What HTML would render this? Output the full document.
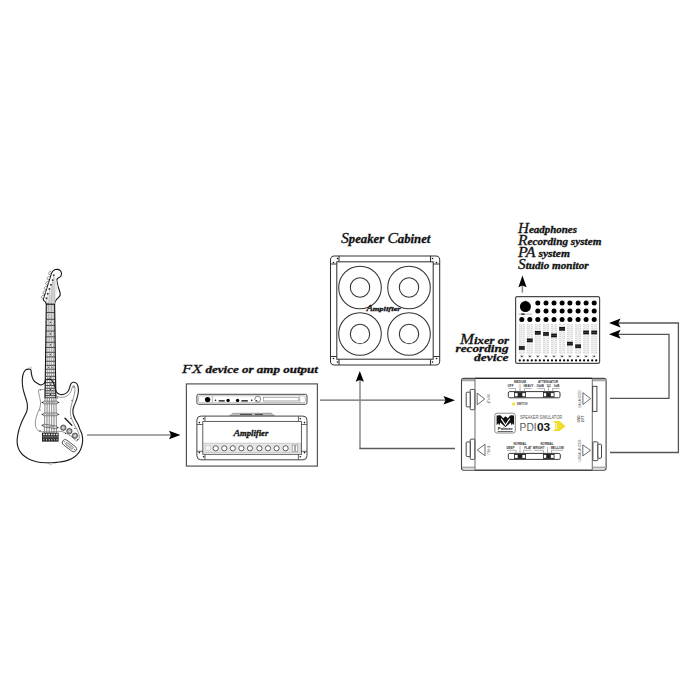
<!DOCTYPE html>
<html><head><meta charset="utf-8">
<style>
html,body{margin:0;padding:0;background:#fff;width:700px;height:700px;overflow:hidden}
svg{display:block}
.sc{font-family:"Liberation Serif",serif;font-style:italic;font-weight:bold;fill:#111;stroke:#111;stroke-width:0.3px}
.ss{font-family:"Liberation Sans",sans-serif}
</style></head><body>
<svg width="700" height="700" viewBox="0 0 700 700">
<rect width="700" height="700" fill="#fff"/>

<!-- GUITAR -->
<g id="guitar">
<path d="M28.80,369.10 C28.13,369.15 26.97,369.15 26.20,369.60 C25.43,370.05 24.77,370.82 24.20,371.80 C23.63,372.78 23.12,374.13 22.80,375.50 C22.48,376.87 22.35,378.42 22.30,380.00 C22.25,381.58 22.33,383.33 22.50,385.00 C22.67,386.67 22.95,388.42 23.30,390.00 C23.65,391.58 24.15,393.00 24.60,394.50 C25.05,396.00 25.58,397.58 26.00,399.00 C26.42,400.42 26.87,401.58 27.10,403.00 C27.33,404.42 27.47,406.08 27.40,407.50 C27.33,408.92 27.08,410.25 26.70,411.50 C26.32,412.75 25.78,413.57 25.10,415.00 C24.42,416.43 23.35,418.47 22.60,420.10 C21.85,421.73 21.20,423.23 20.60,424.80 C20.00,426.37 19.48,427.72 19.00,429.50 C18.52,431.28 18.02,433.52 17.70,435.50 C17.38,437.48 17.05,439.47 17.10,441.40 C17.15,443.33 17.42,445.28 18.00,447.10 C18.58,448.92 19.50,450.77 20.60,452.30 C21.70,453.83 22.98,455.07 24.60,456.30 C26.22,457.53 28.12,458.75 30.30,459.70 C32.48,460.65 35.03,461.48 37.70,462.00 C40.37,462.52 43.92,462.67 46.30,462.80 C48.68,462.93 50.28,462.87 52.00,462.80 C53.72,462.73 54.42,462.68 56.60,462.40 C58.78,462.12 62.53,461.73 65.10,461.10 C67.67,460.47 70.00,459.68 72.00,458.60 C74.00,457.52 75.67,456.13 77.10,454.60 C78.53,453.07 79.73,451.22 80.60,449.40 C81.47,447.58 81.97,445.50 82.30,443.70 C82.63,441.90 82.70,440.32 82.60,438.60 C82.50,436.88 82.13,434.90 81.70,433.40 C81.27,431.90 80.63,431.12 80.00,429.60 C79.37,428.08 78.68,425.97 77.90,424.30 C77.12,422.63 76.05,421.15 75.30,419.60 C74.55,418.05 73.80,416.50 73.40,415.00 C73.00,413.50 72.83,412.02 72.90,410.60 C72.97,409.18 73.38,407.83 73.80,406.50 C74.22,405.17 74.85,404.07 75.40,402.60 C75.95,401.13 76.63,399.30 77.10,397.70 C77.57,396.10 77.98,394.43 78.20,393.00 C78.42,391.57 78.50,390.38 78.40,389.10 C78.30,387.82 78.02,386.33 77.60,385.30 C77.18,384.27 76.62,383.40 75.90,382.90 C75.18,382.40 74.10,382.18 73.30,382.30 C72.50,382.42 71.67,382.88 71.10,383.60 C70.53,384.32 70.28,385.53 69.90,386.60 C69.52,387.67 69.30,389.00 68.80,390.00 C68.30,391.00 67.72,391.88 66.90,392.60 C66.08,393.32 64.98,393.98 63.90,394.30 C62.82,394.62 61.48,394.72 60.40,394.50 C59.32,394.28 58.17,393.65 57.40,393.00 C56.63,392.35 56.18,391.52 55.80,390.60 C55.42,389.68 55.37,388.50 55.10,387.50 C54.83,386.50 54.60,385.58 54.20,384.60 C53.80,383.62 53.32,382.43 52.70,381.60 C52.08,380.77 51.20,380.02 50.50,379.60 C49.80,379.18 49.17,379.13 48.50,379.10 C47.83,379.07 47.02,379.15 46.50,379.40 C45.98,379.65 45.68,380.10 45.40,380.60 C45.12,381.10 45.12,381.85 44.80,382.40 C44.48,382.95 43.97,383.52 43.50,383.90 C43.03,384.28 42.53,384.53 42.00,384.70 C41.47,384.87 41.15,385.17 40.30,384.90 C39.45,384.63 37.95,383.77 36.90,383.10 C35.85,382.43 34.77,381.85 34.00,380.90 C33.23,379.95 32.73,378.65 32.30,377.40 C31.87,376.15 31.60,374.53 31.40,373.40 C31.20,372.27 31.30,371.28 31.10,370.60 C30.90,369.92 30.58,369.55 30.20,369.30 C29.82,369.05 29.47,369.05 28.80,369.10 Z" fill="#fff" stroke="none"/>
<path d="M38.60,390.20 C38.97,389.68 40.05,389.48 40.90,389.40 C41.75,389.32 42.18,389.43 43.70,389.70 C45.22,389.97 48.03,390.20 50.00,391.00 C51.97,391.80 54.40,393.67 55.50,394.50 C56.60,395.33 55.78,395.53 56.60,396.00 C57.42,396.47 59.05,397.15 60.40,397.30 C61.75,397.45 63.42,397.27 64.70,396.90 C65.98,396.53 67.10,395.97 68.10,395.10 C69.10,394.23 70.05,392.90 70.70,391.70 C71.35,390.50 71.60,388.92 72.00,387.90 C72.40,386.88 72.72,385.93 73.10,385.60 C73.48,385.27 73.98,385.38 74.30,385.90 C74.62,386.42 74.95,387.52 75.00,388.70 C75.05,389.88 74.85,391.50 74.60,393.00 C74.35,394.50 73.93,396.05 73.50,397.70 C73.07,399.35 72.43,401.27 72.00,402.90 C71.57,404.53 71.17,406.07 70.90,407.50 C70.63,408.93 70.42,410.07 70.40,411.50 C70.38,412.93 70.42,414.47 70.80,416.10 C71.18,417.73 72.02,419.72 72.70,421.30 C73.38,422.88 74.18,424.25 74.90,425.60 C75.62,426.95 76.38,428.08 77.00,429.40 C77.62,430.72 78.22,432.20 78.60,433.50 C78.98,434.80 79.38,436.08 79.30,437.20 C79.22,438.32 78.65,439.63 78.10,440.20 C77.55,440.77 76.92,441.07 76.00,440.60 C75.08,440.13 73.85,438.38 72.60,437.40 C71.35,436.42 69.75,435.45 68.50,434.70 C67.25,433.95 66.47,433.47 65.10,432.90 C63.73,432.33 62.82,431.48 60.30,431.30 C57.78,431.12 53.28,431.75 50.00,431.80 C46.72,431.85 42.60,431.83 40.60,431.60 C38.60,431.37 38.72,430.95 38.00,430.40 C37.28,429.85 36.72,429.20 36.30,428.30 C35.88,427.40 35.63,426.27 35.50,425.00 C35.37,423.73 35.32,422.20 35.50,420.70 C35.68,419.20 36.13,417.53 36.60,416.00 C37.07,414.47 37.77,412.83 38.30,411.50 C38.83,410.17 39.43,409.25 39.80,408.00 C40.17,406.75 40.40,405.17 40.50,404.00 C40.60,402.83 40.58,402.28 40.40,401.00 C40.22,399.72 39.68,397.72 39.40,396.30 C39.12,394.88 38.83,393.52 38.70,392.50 C38.57,391.48 38.23,390.72 38.60,390.20 Z" fill="#fff" stroke="#666" stroke-width="0.7"/>
<g fill="#333">
<circle cx="40.3" cy="389.9" r="0.6"/>
<circle cx="40" cy="410.1" r="0.6"/>
<circle cx="40" cy="430.7" r="0.6"/>
<circle cx="73.7" cy="387.2" r="0.6"/>
<circle cx="72" cy="400.3" r="0.6"/>
<circle cx="70.8" cy="418.5" r="0.6"/>
<circle cx="74.9" cy="428.4" r="0.6"/>
<circle cx="77.6" cy="439.6" r="0.6"/>
<circle cx="57.4" cy="397.9" r="0.6"/>
<circle cx="65.5" cy="433.4" r="0.6"/>
</g>
<path d="M51.70,272.80 C51.98,272.45 52.78,271.23 53.40,270.70 C54.02,270.17 54.70,269.82 55.40,269.60 C56.10,269.38 56.78,269.22 57.60,269.40 C58.42,269.58 59.65,270.00 60.30,270.70 C60.95,271.40 61.45,272.63 61.50,273.60 C61.55,274.57 61.18,275.73 60.60,276.50 C60.02,277.27 58.63,277.65 58.00,278.20 C57.37,278.75 56.90,278.92 56.80,279.80 C56.70,280.68 57.13,282.22 57.40,283.50 C57.67,284.78 58.00,286.08 58.40,287.50 C58.80,288.92 59.50,290.75 59.80,292.00 C60.10,293.25 60.45,294.07 60.20,295.00 C59.95,295.93 58.97,296.80 58.30,297.60 C57.63,298.40 56.75,299.07 56.20,299.80 C55.65,300.53 55.27,301.30 55.00,302.00 C54.73,302.70 54.67,303.67 54.60,304.00 L46.2,304 C46,302.3 44.8,301.2 43.6,300.4 C43.2,299.8 43.3,299.1 43.6,298.4 L51.7,272.6 Z" fill="#fff" stroke="#1a1a1a" stroke-width="1.1" stroke-linejoin="round"/>
<path d="M53.6,274 L56.3,280 L57.5,286 L54.8,304 L48.5,304 Z" fill="#e8e8e8"/>
<g fill="#fff" stroke="#666" stroke-width="0.6">
<ellipse cx="49.90" cy="273.00" rx="1.7" ry="1.1" transform="rotate(-55 49.90 273.00)"/>
<ellipse cx="48.40" cy="278.00" rx="1.7" ry="1.1" transform="rotate(-55 48.40 278.00)"/>
<ellipse cx="47.00" cy="283.10" rx="1.7" ry="1.1" transform="rotate(-55 47.00 283.10)"/>
<ellipse cx="45.60" cy="287.80" rx="1.7" ry="1.1" transform="rotate(-55 45.60 287.80)"/>
<ellipse cx="44.20" cy="292.40" rx="1.7" ry="1.1" transform="rotate(-55 44.20 292.40)"/>
<ellipse cx="42.70" cy="296.80" rx="1.7" ry="1.1" transform="rotate(-55 42.70 296.80)"/>
</g>
<g stroke="#888" stroke-width="0.45">
<path d="M53.80,275.10 L54.60,304"/>
<path d="M52.60,280.10 L53.08,304"/>
<path d="M51.00,284.70 L51.56,304"/>
<path d="M49.40,289.00 L50.04,304"/>
<path d="M47.80,293.80 L48.52,304"/>
<path d="M46.50,298.20 L47.00,304"/>
</g>
<g fill="#333">
<circle cx="53.8" cy="275.1" r="0.95"/>
<circle cx="52.6" cy="280.1" r="0.95"/>
<circle cx="51" cy="284.7" r="0.95"/>
<circle cx="49.4" cy="289" r="0.95"/>
<circle cx="47.8" cy="293.8" r="0.95"/>
<circle cx="46.5" cy="298.2" r="0.95"/>
</g>
<path d="M46.3,304.0 L54.6,304.0 L55.8,398.2 L45.0,398.2 Z" fill="#eeeeee" stroke="none"/>
<g stroke="#222" stroke-width="0.85">
<path d="M46.18,312.50H54.71"/>
<path d="M46.09,319.30H54.79"/>
<path d="M46.00,325.40H54.87"/>
<path d="M45.93,331.02H54.94"/>
<path d="M45.85,336.81H55.02"/>
<path d="M45.77,342.28H55.09"/>
<path d="M45.70,347.44H55.15"/>
<path d="M45.63,352.31H55.22"/>
<path d="M45.57,356.90H55.27"/>
<path d="M45.51,361.24H55.33"/>
<path d="M45.45,365.33H55.38"/>
<path d="M45.40,369.20H55.43"/>
<path d="M45.35,372.85H55.48"/>
<path d="M45.30,376.29H55.52"/>
<path d="M45.26,379.54H55.56"/>
<path d="M45.22,382.61H55.60"/>
<path d="M45.18,385.51H55.64"/>
<path d="M45.14,388.24H55.67"/>
<path d="M45.10,390.82H55.71"/>
<path d="M45.07,393.25H55.74"/>
<path d="M45.04,395.55H55.77"/>
<path d="M45.01,397.72H55.79"/>
</g>
<g stroke="#707070" stroke-width="0.5">
<path d="M47.00,304 L44.30,434"/>
<path d="M48.52,304 L46.75,434"/>
<path d="M50.04,304 L49.20,434"/>
<path d="M51.56,304 L51.65,434"/>
<path d="M53.08,304 L54.10,434"/>
<path d="M54.60,304 L56.55,434"/>
</g>
<path d="M46.3,304.0 L45.0,398.2 M54.6,304.0 L55.8,398.2" stroke="#1a1a1a" stroke-width="1.1" fill="none"/>
<path d="M46.0,304.2H54.9" stroke="#111" stroke-width="1.1"/>
<g fill="#222">
<circle cx="50.4" cy="322.35" r="0.6"/>
<circle cx="50.4" cy="333.91" r="0.6"/>
<circle cx="50.4" cy="344.86" r="0.6"/>
<circle cx="50.4" cy="354.60" r="0.6"/>
<circle cx="50.4" cy="377.92" r="0.6"/>
<circle cx="50.4" cy="384.06" r="0.6"/>
<circle cx="50.4" cy="389.53" r="0.6"/>
<circle cx="50.4" cy="394.40" r="0.6"/>
<circle cx="48.7" cy="367.27" r="0.55"/><circle cx="52.1" cy="367.27" r="0.55"/>
</g>
<path d="M28.80,369.10 C28.13,369.15 26.97,369.15 26.20,369.60 C25.43,370.05 24.77,370.82 24.20,371.80 C23.63,372.78 23.12,374.13 22.80,375.50 C22.48,376.87 22.35,378.42 22.30,380.00 C22.25,381.58 22.33,383.33 22.50,385.00 C22.67,386.67 22.95,388.42 23.30,390.00 C23.65,391.58 24.15,393.00 24.60,394.50 C25.05,396.00 25.58,397.58 26.00,399.00 C26.42,400.42 26.87,401.58 27.10,403.00 C27.33,404.42 27.47,406.08 27.40,407.50 C27.33,408.92 27.08,410.25 26.70,411.50 C26.32,412.75 25.78,413.57 25.10,415.00 C24.42,416.43 23.35,418.47 22.60,420.10 C21.85,421.73 21.20,423.23 20.60,424.80 C20.00,426.37 19.48,427.72 19.00,429.50 C18.52,431.28 18.02,433.52 17.70,435.50 C17.38,437.48 17.05,439.47 17.10,441.40 C17.15,443.33 17.42,445.28 18.00,447.10 C18.58,448.92 19.50,450.77 20.60,452.30 C21.70,453.83 22.98,455.07 24.60,456.30 C26.22,457.53 28.12,458.75 30.30,459.70 C32.48,460.65 35.03,461.48 37.70,462.00 C40.37,462.52 43.92,462.67 46.30,462.80 C48.68,462.93 50.28,462.87 52.00,462.80 C53.72,462.73 54.42,462.68 56.60,462.40 C58.78,462.12 62.53,461.73 65.10,461.10 C67.67,460.47 70.00,459.68 72.00,458.60 C74.00,457.52 75.67,456.13 77.10,454.60 C78.53,453.07 79.73,451.22 80.60,449.40 C81.47,447.58 81.97,445.50 82.30,443.70 C82.63,441.90 82.70,440.32 82.60,438.60 C82.50,436.88 82.13,434.90 81.70,433.40 C81.27,431.90 80.63,431.12 80.00,429.60 C79.37,428.08 78.68,425.97 77.90,424.30 C77.12,422.63 76.05,421.15 75.30,419.60 C74.55,418.05 73.80,416.50 73.40,415.00 C73.00,413.50 72.83,412.02 72.90,410.60 C72.97,409.18 73.38,407.83 73.80,406.50 C74.22,405.17 74.85,404.07 75.40,402.60 C75.95,401.13 76.63,399.30 77.10,397.70 C77.57,396.10 77.98,394.43 78.20,393.00 C78.42,391.57 78.50,390.38 78.40,389.10 C78.30,387.82 78.02,386.33 77.60,385.30 C77.18,384.27 76.62,383.40 75.90,382.90 C75.18,382.40 74.10,382.18 73.30,382.30 C72.50,382.42 71.67,382.88 71.10,383.60 C70.53,384.32 70.28,385.53 69.90,386.60 C69.52,387.67 69.30,389.00 68.80,390.00 C68.30,391.00 67.72,391.88 66.90,392.60 C66.08,393.32 64.98,393.98 63.90,394.30 C62.82,394.62 61.48,394.72 60.40,394.50 C59.32,394.28 58.17,393.65 57.40,393.00 C56.63,392.35 56.18,391.52 55.80,390.60 C55.42,389.68 55.37,388.50 55.10,387.50 C54.83,386.50 54.60,385.58 54.20,384.60 C53.80,383.62 53.32,382.43 52.70,381.60 C52.08,380.77 51.20,380.02 50.50,379.60 C49.80,379.18 49.17,379.13 48.50,379.10 C47.83,379.07 47.02,379.15 46.50,379.40 C45.98,379.65 45.68,380.10 45.40,380.60 C45.12,381.10 45.12,381.85 44.80,382.40 C44.48,382.95 43.97,383.52 43.50,383.90 C43.03,384.28 42.53,384.53 42.00,384.70 C41.47,384.87 41.15,385.17 40.30,384.90 C39.45,384.63 37.95,383.77 36.90,383.10 C35.85,382.43 34.77,381.85 34.00,380.90 C33.23,379.95 32.73,378.65 32.30,377.40 C31.87,376.15 31.60,374.53 31.40,373.40 C31.20,372.27 31.30,371.28 31.10,370.60 C30.90,369.92 30.58,369.55 30.20,369.30 C29.82,369.05 29.47,369.05 28.80,369.10 Z" fill="none" stroke="#1e1e1e" stroke-width="1.15"/>
<g transform="translate(50.40,402.50) rotate(0.00)">
<path d="M-9.30,0 L-7.10,-0.9 L-7.10,0.9 Z M9.30,0 L7.10,-0.9 L7.10,0.9 Z" fill="#222"/>
<rect x="-7.30" y="-1.35" width="14.60" height="2.7" rx="1.3" fill="#f2f2f2" stroke="#333" stroke-width="0.6"/>
<circle cx="-3.75" cy="0" r="0.45" fill="#444"/>
<circle cx="-2.25" cy="0" r="0.45" fill="#444"/>
<circle cx="-0.75" cy="0" r="0.45" fill="#444"/>
<circle cx="0.75" cy="0" r="0.45" fill="#444"/>
<circle cx="2.25" cy="0" r="0.45" fill="#444"/>
<circle cx="3.75" cy="0" r="0.45" fill="#444"/>
</g>
<g transform="translate(50.40,414.40) rotate(0.00)">
<path d="M-9.30,0 L-7.10,-0.9 L-7.10,0.9 Z M9.30,0 L7.10,-0.9 L7.10,0.9 Z" fill="#222"/>
<rect x="-7.30" y="-1.35" width="14.60" height="2.7" rx="1.3" fill="#f2f2f2" stroke="#333" stroke-width="0.6"/>
<circle cx="-3.75" cy="0" r="0.45" fill="#444"/>
<circle cx="-2.25" cy="0" r="0.45" fill="#444"/>
<circle cx="-0.75" cy="0" r="0.45" fill="#444"/>
<circle cx="0.75" cy="0" r="0.45" fill="#444"/>
<circle cx="2.25" cy="0" r="0.45" fill="#444"/>
<circle cx="3.75" cy="0" r="0.45" fill="#444"/>
</g>
<g transform="translate(50.15,426.45) rotate(9.10)">
<path d="M-9.17,0 L-6.97,-0.9 L-6.97,0.9 Z M9.17,0 L6.97,-0.9 L6.97,0.9 Z" fill="#222"/>
<rect x="-7.17" y="-1.35" width="14.33" height="2.7" rx="1.3" fill="#f2f2f2" stroke="#333" stroke-width="0.6"/>
<circle cx="-3.75" cy="0" r="0.45" fill="#444"/>
<circle cx="-2.25" cy="0" r="0.45" fill="#444"/>
<circle cx="-0.75" cy="0" r="0.45" fill="#444"/>
<circle cx="0.75" cy="0" r="0.45" fill="#444"/>
<circle cx="2.25" cy="0" r="0.45" fill="#444"/>
<circle cx="3.75" cy="0" r="0.45" fill="#444"/>
</g>
<g stroke="#707070" stroke-width="0.5">
<path d="M45.05,398 L44.30,434"/>
<path d="M47.24,398 L46.75,434"/>
<path d="M49.43,398 L49.20,434"/>
<path d="M51.63,398 L51.65,434"/>
<path d="M53.82,398 L54.10,434"/>
<path d="M56.01,398 L56.55,434"/>
</g>
<rect x="42" y="432.7" width="16.6" height="8.9" fill="#1c1c1c"/>
<g fill="#eee">
<rect x="43.10" y="433.6" width="1.7" height="1.7"/>
<rect x="43.40" y="439.2" width="1.1" height="1.2"/>
<rect x="45.70" y="433.6" width="1.7" height="1.7"/>
<rect x="46.00" y="439.2" width="1.1" height="1.2"/>
<rect x="48.30" y="433.6" width="1.7" height="1.7"/>
<rect x="48.60" y="439.2" width="1.1" height="1.2"/>
<rect x="50.90" y="433.6" width="1.7" height="1.7"/>
<rect x="51.20" y="439.2" width="1.1" height="1.2"/>
<rect x="53.50" y="433.6" width="1.7" height="1.7"/>
<rect x="53.80" y="439.2" width="1.1" height="1.2"/>
<rect x="56.10" y="433.6" width="1.7" height="1.7"/>
<rect x="56.40" y="439.2" width="1.1" height="1.2"/>
</g>
<path d="M42.6,436.6H58 M42.6,437.9H58" stroke="#aaa" stroke-width="0.5"/>
<circle cx="63.3" cy="427.7" r="2.7" fill="#9a9a9a" stroke="#333" stroke-width="0.7"/>
<circle cx="63.3" cy="427.7" r="1.2" fill="#d8d8d8"/>
<circle cx="69.4" cy="431.1" r="2.7" fill="#9a9a9a" stroke="#333" stroke-width="0.7"/>
<circle cx="69.4" cy="431.1" r="1.2" fill="#d8d8d8"/>
<circle cx="74.9" cy="435.7" r="2.7" fill="#9a9a9a" stroke="#333" stroke-width="0.7"/>
<circle cx="74.9" cy="435.7" r="1.2" fill="#d8d8d8"/>
<path d="M65,418.3 L71.9,425.4" stroke="#111" stroke-width="1.3" stroke-linecap="round"/>
<g transform="translate(69.4,445.7) rotate(37)"><rect x="-8.2" y="-2.9" width="16.4" height="5.8" rx="2.9" fill="#fff" stroke="#333" stroke-width="0.75"/><rect x="-4.5" y="-1.3" width="9" height="2.6" rx="1.2" fill="#ccc" stroke="#555" stroke-width="0.5"/><circle cx="-6.3" cy="0" r="0.5" fill="#333"/><circle cx="6.3" cy="0" r="0.5" fill="#333"/></g>
<ellipse cx="30.6" cy="367.8" rx="1.4" ry="0.9" fill="#e0e0e0" stroke="#aaa" stroke-width="0.4"/>
<rect x="49.1" y="463.1" width="2.9" height="1.8" fill="#c8c8c8"/>
</g>
<!-- /GUITAR -->

<!-- ARROWS & LINES -->
<g id="lines" stroke="#8a8a8a" stroke-width="1.5" fill="none">
  <line x1="87" y1="435" x2="172" y2="435"/>
  <line x1="320" y1="400.2" x2="447" y2="400.2" stroke="#666" stroke-width="1.3"/>
  <line x1="360" y1="380" x2="360" y2="448"/>
  <polyline points="359.3,448.5 455,448.5" stroke="#5a5a5a" stroke-width="1.3"/>
  <line x1="522.4" y1="285" x2="522.4" y2="292.7"/>
  <polyline points="618,323 678.4,323 678.4,452.5 610,452.5" stroke="#555" stroke-width="1.3"/>
  <polyline points="618,334.3 669,334.3 669,398.3 610,398.3" stroke="#555" stroke-width="1.3"/>
</g>
<g id="heads" fill="#000">
  <path d="M180.5,435 L169,430.8 L171,435 L169,439.2 Z"/>
  <path d="M455,400.2 L443.5,396 L445.5,400.2 L443.5,404.4 Z"/>
  <path d="M359.8,371 L355.7,381.8 L359.8,380 L363.9,381.8 Z"/>
  <path d="M522.4,275.5 L518.4,287.2 L522.4,285.5 L526.6,287.2 Z"/>
  <path d="M609,323 L620.6,318.5 L618.3,323 L620.6,327.5 Z"/>
  <path d="M609,334.3 L620.6,329.8 L618.3,334.3 L620.6,338.8 Z"/>
</g>

<!-- FX BOX -->
<g id="fx">
<rect x="186.4" y="383.9" width="131" height="82.2" fill="none" stroke="#555" stroke-width="1.2"/>
<rect x="196.9" y="394.3" width="110.1" height="10" rx="1.6" fill="#fff" stroke="#444" stroke-width="1"/>
<rect x="198.6" y="395.8" width="106.7" height="6.9" rx="1.2" fill="none" stroke="#999" stroke-width="0.6"/>
<path d="M212.3,395.8V402.7 M299.7,395.8V402.7" stroke="#888" stroke-width="0.6"/>
<circle cx="207.6" cy="399.6" r="2.7" fill="#000"/>
<circle cx="215.5" cy="400.2" r="0.8" fill="#000"/>
<path d="M218.7,400.9H224.7 M241.4,400.9H247.8" stroke="#000" stroke-width="1.1"/>
<circle cx="228.1" cy="400.4" r="1.7" fill="#000"/>
<circle cx="237.6" cy="400.4" r="1.7" fill="#000"/>
<circle cx="251.7" cy="400.2" r="0.8" fill="#000"/>
<circle cx="257.7" cy="399.2" r="2.9" fill="none" stroke="#555" stroke-width="0.7"/>
<circle cx="256.7" cy="400.6" r="0.6" fill="#000"/>
<rect x="263.3" y="397.4" width="35.1" height="3.5" fill="none" stroke="#888" stroke-width="0.6"/>
<path d="M263.3,402.1H298.4" stroke="#aaa" stroke-width="0.6"/>
<path d="M228.9,416.2 L233,413.3 L271,413.1 L275.1,416.2 Z" fill="#bbb" stroke="#777" stroke-width="0.5"/>
<path d="M240,414.4H252 M255,414.4H263" stroke="#333" stroke-width="0.9"/>
<rect x="196.9" y="416.1" width="110.1" height="43.7" rx="4" fill="#fff" stroke="#444" stroke-width="1"/>
<rect x="202.8" y="421.4" width="98.6" height="32.9" fill="none" stroke="#4a4a4a" stroke-width="0.9"/>
<path d="M205,416.1V421.4 M298.4,416.1V421.4 M205,454.3V459.8 M298.4,454.3V459.8 M196.9,424.5H202.8 M301.4,424.5H307 M196.9,451.3H202.8 M301.4,451.3H307" stroke="#4a4a4a" stroke-width="0.85" fill="none"/>
<rect x="203.7" y="443.1" width="97" height="9.5" fill="#e6e6e6" stroke="#aaa" stroke-width="0.5"/>
<rect x="205.8" y="445.6" width="4.4" height="4.6" fill="#f4f4f4" stroke="#bbb" stroke-width="0.5"/>
<circle cx="215.7" cy="448.3" r="2.6" fill="#fff" stroke="#444" stroke-width="0.85"/>
<circle cx="224.3" cy="448.3" r="2.6" fill="#fff" stroke="#444" stroke-width="0.85"/>
<circle cx="232.8" cy="448.3" r="2.6" fill="#fff" stroke="#444" stroke-width="0.85"/>
<circle cx="241.4" cy="448.3" r="2.6" fill="#fff" stroke="#444" stroke-width="0.85"/>
<circle cx="250" cy="448.3" r="2.6" fill="#fff" stroke="#444" stroke-width="0.85"/>
<circle cx="259.4" cy="448.3" r="2.6" fill="#fff" stroke="#444" stroke-width="0.85"/>
<circle cx="268" cy="448.3" r="2.6" fill="#fff" stroke="#444" stroke-width="0.85"/>
<circle cx="276.6" cy="448.3" r="2.6" fill="#fff" stroke="#444" stroke-width="0.85"/>
<circle cx="285.6" cy="448.3" r="2.6" fill="#fff" stroke="#444" stroke-width="0.85"/>
<rect x="292.2" y="445" width="2.4" height="6.4" fill="#fff" stroke="#777" stroke-width="0.6"/>
<rect x="295.4" y="445" width="2.4" height="6.4" fill="#fff" stroke="#777" stroke-width="0.6"/>
<g fill="#111">
<circle cx="203.7" cy="418.7" r="0.8"/>
<circle cx="199.4" cy="422.6" r="0.8"/>
<circle cx="199.4" cy="452.6" r="0.8"/>
<circle cx="203.7" cy="456.8" r="0.8"/>
<circle cx="300.3" cy="418.7" r="0.8"/>
<circle cx="304.5" cy="422.6" r="0.8"/>
<circle cx="304.5" cy="452.6" r="0.8"/>
<circle cx="300.3" cy="456.8" r="0.8"/>
</g>
<text class="sc" x="233.5" y="436.3" font-size="7.6" textLength="34.8" lengthAdjust="spacingAndGlyphs"><tspan font-size="9.2" font-weight="normal">A</tspan>mplifier</text>
</g>

<!-- SPEAKER CABINET -->
<g id="cab" fill="none" stroke="#333" stroke-width="1.05">
<rect x="330.5" y="255.9" width="109.2" height="109.1" rx="3.8"/>
<rect x="336.8" y="261.8" width="96.4" height="97.4"/>
<path d="M339,255.8V261.8 M430.5,255.8V261.8 M339,359.2V365 M430.5,359.2V365 M330.5,264H336.8 M433.2,264H439.7 M330.5,356.5H336.8 M433.2,356.5H439.7"/>
<circle cx="360" cy="287.5" r="21.3"/><circle cx="360" cy="287.5" r="9.7"/>
<circle cx="409" cy="287.5" r="21.3"/><circle cx="409" cy="287.5" r="9.7"/>
<circle cx="360" cy="334" r="21.3"/><circle cx="360" cy="334" r="9.7"/>
<circle cx="409" cy="334" r="21.3"/><circle cx="409" cy="334" r="9.7"/>
</g>
<g fill="#111">
<circle cx="333.5" cy="262.5" r="0.8"/>
<circle cx="337.5" cy="258.5" r="0.8"/>
<circle cx="436.5" cy="262.5" r="0.8"/>
<circle cx="432.5" cy="258.5" r="0.8"/>
<circle cx="333.5" cy="358.5" r="0.8"/>
<circle cx="337.5" cy="362" r="0.8"/>
<circle cx="436.5" cy="358.5" r="0.8"/>
<circle cx="432.5" cy="362" r="0.8"/>
</g>
<text class="sc" x="366.4" y="311.2" font-size="7" textLength="34.3" lengthAdjust="spacingAndGlyphs"><tspan font-size="8.4" font-weight="normal">A</tspan>mplifier</text>

<!-- PDI -->
<g id="pdi">
<rect x="461.5" y="378.4" width="144.6" height="91.8" rx="2.2" fill="#fff" stroke="#444" stroke-width="1.1"/>
<path d="M475,378.4H592.3" stroke="#222" stroke-width="1.3"/>
<path d="M475,470.2H592.3" stroke="#333" stroke-width="1"/>
<rect x="462" y="378.9" width="13" height="2.4" fill="#aaa"/>
<rect x="592.3" y="378.9" width="13.3" height="2.4" fill="#aaa"/>
<rect x="462" y="466.6" width="13" height="1.8" fill="#aaa"/>
<rect x="592.3" y="466.6" width="13.3" height="1.8" fill="#aaa"/>
<path d="M475,378.4V470.2 M592.3,378.4V470.2" stroke="#777" stroke-width="1.1"/>
<rect x="470.2" y="389.4" width="4.6" height="20.3" rx="1" fill="#fff" stroke="#333" stroke-width="0.9"/>
<rect x="466.2" y="392.2" width="4" height="14.7" rx="1" fill="#fff" stroke="#333" stroke-width="0.9"/>
<rect x="470.2" y="439.1" width="4.6" height="20.3" rx="1" fill="#fff" stroke="#333" stroke-width="0.9"/>
<rect x="466.2" y="441.90000000000003" width="4" height="14.7" rx="1" fill="#fff" stroke="#333" stroke-width="0.9"/>
<rect x="592.7" y="386.3" width="4.2" height="25.1" fill="#fff" stroke="#333" stroke-width="0.9"/>
<rect x="592.9" y="441.8" width="5" height="18.9" rx="1" fill="#fff" stroke="#333" stroke-width="0.9"/>
<rect x="597.9" y="444.2" width="3.6" height="14.1" rx="1" fill="#fff" stroke="#333" stroke-width="0.9"/>
<g fill="none" stroke="#444" stroke-width="0.8">
<path d="M477.2,393.1 L484.7,398.9 L477.2,404.8 Z"/>
<path d="M485,444.3 L477.2,450 L485,455.7 Z"/>
<path d="M582.9,392.7 L590.6,398.6 L582.9,404.5 Z"/>
<path d="M582.8,444.9 L590.5,450.4 L582.8,455.9 Z"/>
</g>
<g class="ss" font-size="3.2" fill="#555">
<text transform="translate(486.6,399) rotate(90)" text-anchor="middle">INPUT</text>
<text transform="translate(486.6,450) rotate(90)" text-anchor="middle">THRU</text>
<text transform="translate(581.3,399) rotate(-90)" text-anchor="middle">BALANCED</text>
<text transform="translate(581.3,450.5) rotate(-90)" text-anchor="middle">UNBALANCED</text>
<text transform="translate(580.3,419) rotate(-90)" text-anchor="middle" font-weight="bold">GND</text>
<text transform="translate(583.6,419) rotate(-90)" text-anchor="middle" font-weight="bold">LIFT</text>
</g>
<rect x="508.3" y="391.6" width="51.69999999999999" height="6.199999999999989" rx="1.5" fill="#fff" stroke="#222" stroke-width="0.9"/>
<rect x="514" y="392.1" width="12" height="5.199999999999989" fill="#222"/>
<rect x="514.8" y="393.1" width="2.9" height="3.1999999999999886" fill="#fff"/>
<rect x="522.3" y="393.1" width="2.9" height="3.1999999999999886" fill="#fff"/>
<rect x="543" y="392.1" width="11.5" height="5.199999999999989" fill="#222"/>
<rect x="543.8" y="393.1" width="2.4" height="3.1999999999999886" fill="#fff"/>
<rect x="550.8" y="393.1" width="2.9" height="3.1999999999999886" fill="#fff"/>
<rect x="508.3" y="453.4" width="51.99999999999994" height="6.0" rx="1.5" fill="#fff" stroke="#222" stroke-width="0.9"/>
<rect x="514" y="453.9" width="12" height="5.0" fill="#222"/>
<rect x="514.8" y="454.9" width="2.9" height="3.0" fill="#fff"/>
<rect x="522.3" y="454.9" width="2.9" height="3.0" fill="#fff"/>
<rect x="543" y="453.9" width="11.5" height="5.0" fill="#222"/>
<rect x="543.8" y="454.9" width="2.4" height="3.0" fill="#fff"/>
<rect x="550.8" y="454.9" width="2.9" height="3.0" fill="#fff"/>
<g fill="none" stroke="#666" stroke-width="0.5">
<path d="M508.5,388.5H515.5V391.6 M520,384V391.6 M524.5,391.6V388.5H531.5 M537.5,388.5H544.5V391.6 M548.5,386V391.6 M552.5,391.6V388.5H559.5"/>
<path d="M507,450.3H516V453.4 M520,446V453.4 M523.5,453.4V450.3H531.5 M534,450.3H543.5V453.4 M547.5,447V453.4 M551.5,453.4V450.3H563"/>
</g>
<g class="ss" font-size="3" fill="#333" font-weight="bold" text-anchor="middle">
<text x="520" y="382.9">MEDIUM</text><text x="548.2" y="382.9">ATTENUATOR</text>
<text x="510.5" y="386.8">OFF</text><text x="528.5" y="386.8">HEAVY</text><text x="539.7" y="386.8">-16dB</text><text x="548.5" y="386.8">1/2</text><text x="556.6" y="386.8">0dB</text>
<text x="520" y="444.8">NORMAL</text><text x="547" y="444.8">NORMAL</text>
<text x="510.5" y="448.6">DEEP</text><text x="528" y="448.6">FLAT</text><text x="538.8" y="448.6">BRIGHT</text><text x="557.3" y="448.6">MELLOW</text>
</g>
<circle cx="513.5" cy="403.9" r="1.6" fill="#f3e23a"/>
<text class="ss" x="516.8" y="405.2" font-size="3.3" fill="#444" font-weight="bold" textLength="10.8" lengthAdjust="spacingAndGlyphs">SWITCH</text>
<rect x="494.8" y="413.2" width="20.5" height="19.8" rx="2.2" fill="#fff" stroke="#8a8a8a" stroke-width="1"/>
<path d="M496.6,415.6 L500.5,415.3 L503.2,418.2 L505.5,416.2 L507.8,418.2 L510.5,415.3 L514,415.6 L514,425.2 L512.8,423.2 L511.8,425.6 L510.6,422.6 L508.6,424.5 L505.5,427 L502.4,424.5 L500.4,422.6 L499.2,425.6 L498.2,423.2 L496.6,425.2 Z" fill="#111"/>
<path d="M501.2,418.6 L505.5,425 L509.8,418.6" fill="none" stroke="#fff" stroke-width="1.1"/>
<text class="ss" x="505.3" y="430.2" font-size="3.9" font-weight="bold" fill="#111" text-anchor="middle" textLength="15" lengthAdjust="spacingAndGlyphs">Palmer</text>
<rect x="497.6" y="431.1" width="15.2" height="0.9" fill="#555"/>
<text class="ss" x="520" y="419.4" font-size="5.2" fill="#555" textLength="42" lengthAdjust="spacingAndGlyphs">SPEAKER SIMULATOR</text>
<text class="ss" x="519.6" y="430.5" font-size="11.6" fill="#1a1a1a" stroke="#fff" stroke-width="0.22" textLength="17" lengthAdjust="spacingAndGlyphs">PDI</text>
<text class="ss" x="537" y="430.5" font-size="11.6" font-weight="bold" fill="#111" textLength="13.2" lengthAdjust="spacingAndGlyphs">03</text>
<path d="M552.7,421 H559.6 L565.6,426.2 L559.6,431.1 H552.7 L555.2,429.3 V422.9 Z" fill="#f0dc2a"/>
<path d="M556.6,423 V429.2" stroke="#f9f3b8" stroke-width="1"/>
</g>

<!-- MIXER -->
<g id="mixer">
<rect x="515.6" y="296.7" width="84" height="66.6" rx="1.6" fill="#fff" stroke="#484848" stroke-width="1.2"/>
<g stroke="#b4b4b4" stroke-width="0.7">
<path d="M518.8,324.8h2 M522.8,324.8h2"/>
<path d="M518.8,326.8h2 M522.8,326.8h2"/>
<path d="M518.8,328.8h2 M522.8,328.8h2"/>
<path d="M518.8,330.8h2 M522.8,330.8h2"/>
<path d="M518.8,332.8h2 M522.8,332.8h2"/>
<path d="M518.8,334.8h2 M522.8,334.8h2"/>
<path d="M518.8,336.8h2 M522.8,336.8h2"/>
<path d="M518.8,338.8h2 M522.8,338.8h2"/>
<path d="M518.8,340.8h2 M522.8,340.8h2"/>
<path d="M518.8,342.8h2 M522.8,342.8h2"/>
<path d="M518.8,344.8h2 M522.8,344.8h2"/>
<path d="M518.8,346.8h2 M522.8,346.8h2"/>
<path d="M518.8,348.8h2 M522.8,348.8h2"/>
<path d="M518.8,350.8h2 M522.8,350.8h2"/>
<path d="M518.8,352.8h2 M522.8,352.8h2"/>
<path d="M526.8,324.8h2 M530.8,324.8h2"/>
<path d="M526.8,326.8h2 M530.8,326.8h2"/>
<path d="M526.8,328.8h2 M530.8,328.8h2"/>
<path d="M526.8,330.8h2 M530.8,330.8h2"/>
<path d="M526.8,332.8h2 M530.8,332.8h2"/>
<path d="M526.8,334.8h2 M530.8,334.8h2"/>
<path d="M526.8,336.8h2 M530.8,336.8h2"/>
<path d="M526.8,338.8h2 M530.8,338.8h2"/>
<path d="M526.8,340.8h2 M530.8,340.8h2"/>
<path d="M526.8,342.8h2 M530.8,342.8h2"/>
<path d="M526.8,344.8h2 M530.8,344.8h2"/>
<path d="M526.8,346.8h2 M530.8,346.8h2"/>
<path d="M526.8,348.8h2 M530.8,348.8h2"/>
<path d="M526.8,350.8h2 M530.8,350.8h2"/>
<path d="M526.8,352.8h2 M530.8,352.8h2"/>
<path d="M534.8,324.8h2 M538.8,324.8h2"/>
<path d="M534.8,326.8h2 M538.8,326.8h2"/>
<path d="M534.8,328.8h2 M538.8,328.8h2"/>
<path d="M534.8,330.8h2 M538.8,330.8h2"/>
<path d="M534.8,332.8h2 M538.8,332.8h2"/>
<path d="M534.8,334.8h2 M538.8,334.8h2"/>
<path d="M534.8,336.8h2 M538.8,336.8h2"/>
<path d="M534.8,338.8h2 M538.8,338.8h2"/>
<path d="M534.8,340.8h2 M538.8,340.8h2"/>
<path d="M534.8,342.8h2 M538.8,342.8h2"/>
<path d="M534.8,344.8h2 M538.8,344.8h2"/>
<path d="M534.8,346.8h2 M538.8,346.8h2"/>
<path d="M534.8,348.8h2 M538.8,348.8h2"/>
<path d="M534.8,350.8h2 M538.8,350.8h2"/>
<path d="M534.8,352.8h2 M538.8,352.8h2"/>
<path d="M543.0,324.8h2 M547.0,324.8h2"/>
<path d="M543.0,326.8h2 M547.0,326.8h2"/>
<path d="M543.0,328.8h2 M547.0,328.8h2"/>
<path d="M543.0,330.8h2 M547.0,330.8h2"/>
<path d="M543.0,332.8h2 M547.0,332.8h2"/>
<path d="M543.0,334.8h2 M547.0,334.8h2"/>
<path d="M543.0,336.8h2 M547.0,336.8h2"/>
<path d="M543.0,338.8h2 M547.0,338.8h2"/>
<path d="M543.0,340.8h2 M547.0,340.8h2"/>
<path d="M543.0,342.8h2 M547.0,342.8h2"/>
<path d="M543.0,344.8h2 M547.0,344.8h2"/>
<path d="M543.0,346.8h2 M547.0,346.8h2"/>
<path d="M543.0,348.8h2 M547.0,348.8h2"/>
<path d="M543.0,350.8h2 M547.0,350.8h2"/>
<path d="M543.0,352.8h2 M547.0,352.8h2"/>
<path d="M551.0,324.8h2 M555.0,324.8h2"/>
<path d="M551.0,326.8h2 M555.0,326.8h2"/>
<path d="M551.0,328.8h2 M555.0,328.8h2"/>
<path d="M551.0,330.8h2 M555.0,330.8h2"/>
<path d="M551.0,332.8h2 M555.0,332.8h2"/>
<path d="M551.0,334.8h2 M555.0,334.8h2"/>
<path d="M551.0,336.8h2 M555.0,336.8h2"/>
<path d="M551.0,338.8h2 M555.0,338.8h2"/>
<path d="M551.0,340.8h2 M555.0,340.8h2"/>
<path d="M551.0,342.8h2 M555.0,342.8h2"/>
<path d="M551.0,344.8h2 M555.0,344.8h2"/>
<path d="M551.0,346.8h2 M555.0,346.8h2"/>
<path d="M551.0,348.8h2 M555.0,348.8h2"/>
<path d="M551.0,350.8h2 M555.0,350.8h2"/>
<path d="M551.0,352.8h2 M555.0,352.8h2"/>
<path d="M559.1,324.8h2 M563.1,324.8h2"/>
<path d="M559.1,326.8h2 M563.1,326.8h2"/>
<path d="M559.1,328.8h2 M563.1,328.8h2"/>
<path d="M559.1,330.8h2 M563.1,330.8h2"/>
<path d="M559.1,332.8h2 M563.1,332.8h2"/>
<path d="M559.1,334.8h2 M563.1,334.8h2"/>
<path d="M559.1,336.8h2 M563.1,336.8h2"/>
<path d="M559.1,338.8h2 M563.1,338.8h2"/>
<path d="M559.1,340.8h2 M563.1,340.8h2"/>
<path d="M559.1,342.8h2 M563.1,342.8h2"/>
<path d="M559.1,344.8h2 M563.1,344.8h2"/>
<path d="M559.1,346.8h2 M563.1,346.8h2"/>
<path d="M559.1,348.8h2 M563.1,348.8h2"/>
<path d="M559.1,350.8h2 M563.1,350.8h2"/>
<path d="M559.1,352.8h2 M563.1,352.8h2"/>
<path d="M566.9,324.8h2 M570.9,324.8h2"/>
<path d="M566.9,326.8h2 M570.9,326.8h2"/>
<path d="M566.9,328.8h2 M570.9,328.8h2"/>
<path d="M566.9,330.8h2 M570.9,330.8h2"/>
<path d="M566.9,332.8h2 M570.9,332.8h2"/>
<path d="M566.9,334.8h2 M570.9,334.8h2"/>
<path d="M566.9,336.8h2 M570.9,336.8h2"/>
<path d="M566.9,338.8h2 M570.9,338.8h2"/>
<path d="M566.9,340.8h2 M570.9,340.8h2"/>
<path d="M566.9,342.8h2 M570.9,342.8h2"/>
<path d="M566.9,344.8h2 M570.9,344.8h2"/>
<path d="M566.9,346.8h2 M570.9,346.8h2"/>
<path d="M566.9,348.8h2 M570.9,348.8h2"/>
<path d="M566.9,350.8h2 M570.9,350.8h2"/>
<path d="M566.9,352.8h2 M570.9,352.8h2"/>
<path d="M575.1,324.8h2 M579.1,324.8h2"/>
<path d="M575.1,326.8h2 M579.1,326.8h2"/>
<path d="M575.1,328.8h2 M579.1,328.8h2"/>
<path d="M575.1,330.8h2 M579.1,330.8h2"/>
<path d="M575.1,332.8h2 M579.1,332.8h2"/>
<path d="M575.1,334.8h2 M579.1,334.8h2"/>
<path d="M575.1,336.8h2 M579.1,336.8h2"/>
<path d="M575.1,338.8h2 M579.1,338.8h2"/>
<path d="M575.1,340.8h2 M579.1,340.8h2"/>
<path d="M575.1,342.8h2 M579.1,342.8h2"/>
<path d="M575.1,344.8h2 M579.1,344.8h2"/>
<path d="M575.1,346.8h2 M579.1,346.8h2"/>
<path d="M575.1,348.8h2 M579.1,348.8h2"/>
<path d="M575.1,350.8h2 M579.1,350.8h2"/>
<path d="M575.1,352.8h2 M579.1,352.8h2"/>
<path d="M583.1,324.8h2 M587.1,324.8h2"/>
<path d="M583.1,326.8h2 M587.1,326.8h2"/>
<path d="M583.1,328.8h2 M587.1,328.8h2"/>
<path d="M583.1,330.8h2 M587.1,330.8h2"/>
<path d="M583.1,332.8h2 M587.1,332.8h2"/>
<path d="M583.1,334.8h2 M587.1,334.8h2"/>
<path d="M583.1,336.8h2 M587.1,336.8h2"/>
<path d="M583.1,338.8h2 M587.1,338.8h2"/>
<path d="M583.1,340.8h2 M587.1,340.8h2"/>
<path d="M583.1,342.8h2 M587.1,342.8h2"/>
<path d="M583.1,344.8h2 M587.1,344.8h2"/>
<path d="M583.1,346.8h2 M587.1,346.8h2"/>
<path d="M583.1,348.8h2 M587.1,348.8h2"/>
<path d="M583.1,350.8h2 M587.1,350.8h2"/>
<path d="M583.1,352.8h2 M587.1,352.8h2"/>
<path d="M591.2,324.8h2 M595.2,324.8h2"/>
<path d="M591.2,326.8h2 M595.2,326.8h2"/>
<path d="M591.2,328.8h2 M595.2,328.8h2"/>
<path d="M591.2,330.8h2 M595.2,330.8h2"/>
<path d="M591.2,332.8h2 M595.2,332.8h2"/>
<path d="M591.2,334.8h2 M595.2,334.8h2"/>
<path d="M591.2,336.8h2 M595.2,336.8h2"/>
<path d="M591.2,338.8h2 M595.2,338.8h2"/>
<path d="M591.2,340.8h2 M595.2,340.8h2"/>
<path d="M591.2,342.8h2 M595.2,342.8h2"/>
<path d="M591.2,344.8h2 M595.2,344.8h2"/>
<path d="M591.2,346.8h2 M595.2,346.8h2"/>
<path d="M591.2,348.8h2 M595.2,348.8h2"/>
<path d="M591.2,350.8h2 M595.2,350.8h2"/>
<path d="M591.2,352.8h2 M595.2,352.8h2"/>
</g>
<g stroke="#bdbdbd" stroke-width="0.5">
<path d="M521.8,324.3V354"/>
<path d="M529.8,324.3V354"/>
<path d="M537.8,324.3V354"/>
<path d="M546.0,324.3V354"/>
<path d="M554.0,324.3V354"/>
<path d="M562.1,324.3V354"/>
<path d="M569.9,324.3V354"/>
<path d="M578.1,324.3V354"/>
<path d="M586.1,324.3V354"/>
<path d="M594.2,324.3V354"/>
</g>
<g fill="#bbb">
<circle cx="540.4" cy="300.5" r="0.45"/>
<circle cx="540.4" cy="308.5" r="0.45"/>
<circle cx="548.6" cy="300.5" r="0.45"/>
<circle cx="548.6" cy="308.5" r="0.45"/>
<circle cx="556.6" cy="300.5" r="0.45"/>
<circle cx="556.6" cy="308.5" r="0.45"/>
<circle cx="564.7" cy="300.5" r="0.45"/>
<circle cx="564.7" cy="308.5" r="0.45"/>
<circle cx="572.5" cy="300.5" r="0.45"/>
<circle cx="572.5" cy="308.5" r="0.45"/>
<circle cx="580.7" cy="300.5" r="0.45"/>
<circle cx="580.7" cy="308.5" r="0.45"/>
<circle cx="588.7" cy="300.5" r="0.45"/>
<circle cx="588.7" cy="308.5" r="0.45"/>
<circle cx="596.8" cy="300.5" r="0.45"/>
<circle cx="596.8" cy="308.5" r="0.45"/>
<circle cx="524.4" cy="316.8" r="0.45"/>
<circle cx="532.4" cy="316.8" r="0.45"/>
<circle cx="540.4" cy="316.8" r="0.45"/>
<circle cx="548.6" cy="316.8" r="0.45"/>
<circle cx="556.6" cy="316.8" r="0.45"/>
<circle cx="564.7" cy="316.8" r="0.45"/>
<circle cx="572.5" cy="316.8" r="0.45"/>
<circle cx="580.7" cy="316.8" r="0.45"/>
<circle cx="588.7" cy="316.8" r="0.45"/>
<circle cx="596.8" cy="316.8" r="0.45"/>
</g>
<circle cx="525.4" cy="306.6" r="5.5" fill="#000"/>
<circle cx="525.4" cy="300.6" r="0.5" fill="#999"/>
<g fill="#000">
<circle cx="537.8" cy="303.1" r="2.5"/>
<circle cx="537.8" cy="311.1" r="2.5"/>
<circle cx="546" cy="303.1" r="2.5"/>
<circle cx="546" cy="311.1" r="2.5"/>
<circle cx="554" cy="303.1" r="2.5"/>
<circle cx="554" cy="311.1" r="2.5"/>
<circle cx="562.1" cy="303.1" r="2.5"/>
<circle cx="562.1" cy="311.1" r="2.5"/>
<circle cx="569.9" cy="303.1" r="2.5"/>
<circle cx="569.9" cy="311.1" r="2.5"/>
<circle cx="578.1" cy="303.1" r="2.5"/>
<circle cx="578.1" cy="311.1" r="2.5"/>
<circle cx="586.1" cy="303.1" r="2.5"/>
<circle cx="586.1" cy="311.1" r="2.5"/>
<circle cx="594.2" cy="303.1" r="2.5"/>
<circle cx="594.2" cy="311.1" r="2.5"/>
<circle cx="521.8" cy="319.4" r="2.5"/>
<circle cx="529.8" cy="319.4" r="2.5"/>
<circle cx="537.8" cy="319.4" r="2.5"/>
<circle cx="546" cy="319.4" r="2.5"/>
<circle cx="554" cy="319.4" r="2.5"/>
<circle cx="562.1" cy="319.4" r="2.5"/>
<circle cx="569.9" cy="319.4" r="2.5"/>
<circle cx="578.1" cy="319.4" r="2.5"/>
<circle cx="586.1" cy="319.4" r="2.5"/>
<circle cx="594.2" cy="319.4" r="2.5"/>
</g>
<rect x="518.5" y="313.6" width="13.5" height="1.1" fill="#b8b8b8"/>
<rect x="521.2" y="313.4" width="3.4" height="1.5" fill="#333"/>
<rect x="518.9" y="346.1" width="5.8" height="3.7" fill="#111"/>
<path d="M518.9,348.0h5.8" stroke="#777" stroke-width="0.45"/>
<rect x="526.9" y="338.5" width="5.8" height="3.7" fill="#111"/>
<path d="M526.9,340.4h5.8" stroke="#777" stroke-width="0.45"/>
<rect x="534.9" y="331.0" width="5.8" height="3.7" fill="#111"/>
<path d="M534.9,332.9h5.8" stroke="#777" stroke-width="0.45"/>
<rect x="543.1" y="332.1" width="5.8" height="3.7" fill="#111"/>
<path d="M543.1,334.0h5.8" stroke="#777" stroke-width="0.45"/>
<rect x="551.1" y="333.6" width="5.8" height="3.7" fill="#111"/>
<path d="M551.1,335.5h5.8" stroke="#777" stroke-width="0.45"/>
<rect x="559.2" y="327.0" width="5.8" height="3.7" fill="#111"/>
<path d="M559.2,328.9h5.8" stroke="#777" stroke-width="0.45"/>
<rect x="567.0" y="341.8" width="5.8" height="3.7" fill="#111"/>
<path d="M567.0,343.7h5.8" stroke="#777" stroke-width="0.45"/>
<rect x="575.2" y="344.4" width="5.8" height="3.7" fill="#111"/>
<path d="M575.2,346.3h5.8" stroke="#777" stroke-width="0.45"/>
<rect x="583.2" y="330.6" width="5.8" height="3.7" fill="#111"/>
<path d="M583.2,332.5h5.8" stroke="#777" stroke-width="0.45"/>
<rect x="591.3" y="330.6" width="5.8" height="3.7" fill="#111"/>
<path d="M591.3,332.5h5.8" stroke="#777" stroke-width="0.45"/>
<rect x="520.2" y="355.5" width="3.2" height="1.7" fill="#fff" stroke="#aaa" stroke-width="0.3"/>
<rect x="521.0" y="355.8" width="1.6" height="1.1" fill="#222"/>
<rect x="528.2" y="355.5" width="3.2" height="1.7" fill="#fff" stroke="#aaa" stroke-width="0.3"/>
<rect x="529.0" y="355.8" width="1.6" height="1.1" fill="#222"/>
<rect x="536.2" y="355.5" width="3.2" height="1.7" fill="#fff" stroke="#aaa" stroke-width="0.3"/>
<rect x="537.0" y="355.8" width="1.6" height="1.1" fill="#222"/>
<rect x="544.4" y="355.5" width="3.2" height="1.7" fill="#fff" stroke="#aaa" stroke-width="0.3"/>
<rect x="545.2" y="355.8" width="1.6" height="1.1" fill="#222"/>
<rect x="552.4" y="355.5" width="3.2" height="1.7" fill="#fff" stroke="#aaa" stroke-width="0.3"/>
<rect x="553.2" y="355.8" width="1.6" height="1.1" fill="#222"/>
<rect x="560.5" y="355.5" width="3.2" height="1.7" fill="#fff" stroke="#aaa" stroke-width="0.3"/>
<rect x="561.3" y="355.8" width="1.6" height="1.1" fill="#222"/>
<rect x="568.3" y="355.5" width="3.2" height="1.7" fill="#fff" stroke="#aaa" stroke-width="0.3"/>
<rect x="569.1" y="355.8" width="1.6" height="1.1" fill="#222"/>
<rect x="576.5" y="355.5" width="3.2" height="1.7" fill="#fff" stroke="#aaa" stroke-width="0.3"/>
<rect x="577.3" y="355.8" width="1.6" height="1.1" fill="#222"/>
<rect x="584.5" y="355.5" width="3.2" height="1.7" fill="#fff" stroke="#aaa" stroke-width="0.3"/>
<rect x="585.3" y="355.8" width="1.6" height="1.1" fill="#222"/>
<rect x="592.6" y="355.5" width="3.2" height="1.7" fill="#fff" stroke="#aaa" stroke-width="0.3"/>
<rect x="593.4" y="355.8" width="1.6" height="1.1" fill="#222"/>
<g fill="#000">
<circle cx="519.8" cy="360.4" r="1.1"/><circle cx="523.8" cy="360.4" r="1.1"/>
<circle cx="527.8" cy="360.4" r="1.1"/><circle cx="531.8" cy="360.4" r="1.1"/>
<circle cx="535.8" cy="360.4" r="1.1"/><circle cx="539.8" cy="360.4" r="1.1"/>
<circle cx="544.0" cy="360.4" r="1.1"/><circle cx="548.0" cy="360.4" r="1.1"/>
<circle cx="552.0" cy="360.4" r="1.1"/><circle cx="556.0" cy="360.4" r="1.1"/>
<circle cx="560.1" cy="360.4" r="1.1"/><circle cx="564.1" cy="360.4" r="1.1"/>
<circle cx="567.9" cy="360.4" r="1.1"/><circle cx="571.9" cy="360.4" r="1.1"/>
<circle cx="576.1" cy="360.4" r="1.1"/><circle cx="580.1" cy="360.4" r="1.1"/>
<circle cx="584.1" cy="360.4" r="1.1"/><circle cx="588.1" cy="360.4" r="1.1"/>
<circle cx="592.2" cy="360.4" r="1.1"/><circle cx="596.2" cy="360.4" r="1.1"/>
</g>
</g>

<!-- TEXT -->
<text class="sc" x="341" y="243" font-size="12.4" textLength="89.4" lengthAdjust="spacingAndGlyphs"><tspan font-size="15.3" font-weight="normal">S</tspan>peaker <tspan font-size="15.3" font-weight="normal">C</tspan>abinet</text>
<text class="sc" x="182" y="373" font-size="10.4" textLength="136" lengthAdjust="spacingAndGlyphs"><tspan font-size="13.2" font-weight="normal">FX</tspan> device or amp output</text>
<g class="sc" font-size="10.3">
  <text x="518" y="232.6" textLength="59" lengthAdjust="spacingAndGlyphs"><tspan font-size="14.2" font-weight="normal">H</tspan>eadphones</text>
  <text x="518" y="244.8" textLength="83.4" lengthAdjust="spacingAndGlyphs"><tspan font-size="14.2" font-weight="normal">R</tspan>ecording system</text>
  <text x="518" y="257" textLength="52" lengthAdjust="spacingAndGlyphs"><tspan font-size="14.2" font-weight="normal">PA</tspan> system</text>
  <text x="518" y="269.2" textLength="70.6" lengthAdjust="spacingAndGlyphs"><tspan font-size="14.2" font-weight="normal">S</tspan>tudio monitor</text>
</g>
<g class="sc" font-size="11">
  <text x="460" y="343.5" textLength="49" lengthAdjust="spacingAndGlyphs"><tspan font-size="14.5" font-weight="normal">M</tspan>ixer or</text>
  <text x="455.5" y="352.2" textLength="53" lengthAdjust="spacingAndGlyphs">recording</text>
  <text x="474" y="361" textLength="34.5" lengthAdjust="spacingAndGlyphs">device</text>
</g>

</svg>
</body></html>
